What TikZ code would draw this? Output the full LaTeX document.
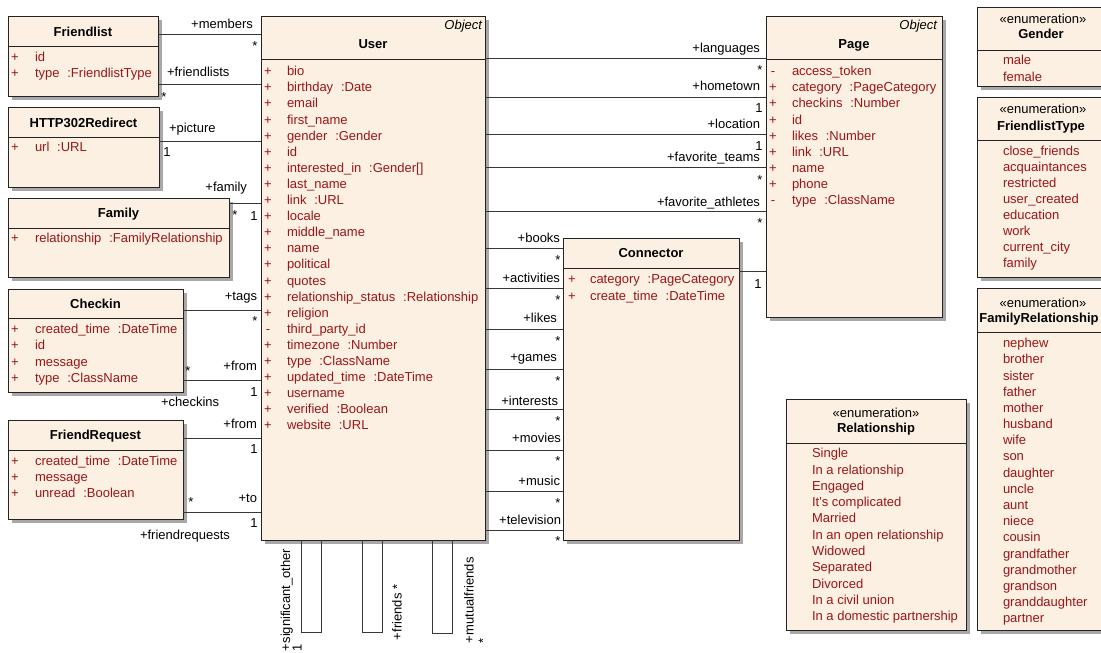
\documentclass[tikz,border=0pt]{standalone}
\usepackage{fontspec}
\setmainfont{Liberation Sans}
\definecolor{boxfill}{RGB}{251,240,226}
\definecolor{attrred}{RGB}{155,22,22}
\definecolor{shadowgray}{RGB}{168,168,168}
\definecolor{edgegray}{RGB}{55,55,55}
\definecolor{boxline}{RGB}{35,35,35}

\tikzset{
  classbox/.style={draw=boxline, line width=1pt, fill=boxfill, inner sep=0pt, outer sep=0pt, anchor=north west},
  sepline/.style={draw=boxline, line width=1pt},
  shadowbox/.style={fill=shadowgray},
  assoc/.style={draw=edgegray, line width=0.9pt},
  txt/.style={font=\fontsize{13}{15.5}\selectfont, inner sep=0pt, outer sep=0pt, text height=9.4pt, text depth=0pt},
  vis/.style={txt, text=attrred},
  attr/.style={txt, text=attrred, anchor=west},
  ttl/.style={txt, font=\fontsize{13}{15.5}\selectfont\bfseries},
  stereo/.style={txt},
  role/.style={txt},
  mult/.style={txt},
  star/.style={txt, yshift=-2.8pt}
}

% type suffix of an attribute
\newcommand\attype[1]{\hspace{0.6em}:#1}

% class rectangle with drop shadow and header separator
% #1 name, #2 x1, #3 y1, #4 x2, #5 y2, #6 separator y
\newcommand\umlclass[6]{%
  \fill[shadowbox] ({#2+4},{#3+4}) rectangle ({#4+4},{#5+4});
  \node[classbox, minimum width={(#4)-(#2)}, minimum height={(#5)-(#3)}] (#1) at (#2,#3) {};
  \draw[sepline] (#1.west |- 0,#6) -- (#1.east |- 0,#6);
}

% attribute rows: #1 prefix, #2 x of visibility, #3 x of text, #4 first y, #5 step, #6 list
\newcommand\attrlist[6]{%
  \foreach \v/\t [count=\i] in {#6} {
    \node[vis, name=#1v\i] at (#2, {#4+(\i-1)*#5}) {\v};
    \node[attr, name=#1a\i] at (#3, {#4+(\i-1)*#5}) {\t};
  }
}

% enumeration literals: #1 prefix, #2 x, #3 first y, #4 step, #5 list
\newcommand\enumlist[5]{%
  \foreach \t [count=\i] in {#5} {
    \node[attr, name=#1e\i] at (#2, {#3+(\i-1)*#4}) {\t};
  }
}

\begin{document}
\begin{tikzpicture}[x=1pt,y=-1pt]
\useasboundingbox (0,0) rectangle (1101,653);

% ---------------- classes ----------------
\umlclass{friendlist}{8}{16}{158}{96}{46}
\node[ttl] (tfriendlist) at (83,32) {Friendlist};
\attrlist{fl}{15}{35}{57}{16.1}{+/id, +/{type\attype{FriendlistType}}}

\umlclass{redirect}{8}{107}{159}{187}{137}
\node[ttl] (tredirect) at (83.5,123) {HTTP302Redirect};
\attrlist{rd}{15}{35}{147}{16.1}{+/{url\attype{URL}}}

\umlclass{family}{8}{198}{229}{277}{228}
\node[ttl] (tfamily) at (118.5,213) {Family};
\attrlist{fa}{15}{35}{238}{16.1}{+/{relationship\attype{FamilyRelationship}}}

\umlclass{checkin}{8}{289}{183}{392}{318}
\node[ttl] (tcheckin) at (95.5,304) {Checkin};
\attrlist{ci}{15}{35}{329}{16.2}{+/{created\_time\attype{DateTime}}, +/id, +/message, +/{type\attype{ClassName}}}

\umlclass{friendrequest}{8}{420}{183}{519}{450}
\node[ttl] (tfriendrequest) at (95.5,435) {FriendRequest};
\attrlist{fr}{15}{35}{460.5}{16.2}{+/{created\_time\attype{DateTime}}, +/message, +/{unread\attype{Boolean}}}

\umlclass{user}{261}{16}{485}{540}{59}
\node[txt, font=\fontsize{13}{15.5}\selectfont\itshape, anchor=east] (ouser) at (482,25) {Object};
\node[ttl] (tuser) at (373,44) {User};
\attrlist{us}{268}{287}{71}{16.1}{
  +/bio, +/{birthday\attype{Date}}, +/email, +/first\_name, +/{gender\attype{Gender}}, +/id,
  +/{interested\_in\attype{Gender[]}}, +/last\_name, +/{link\attype{URL}}, +/locale, +/middle\_name,
  +/name, +/political, +/quotes, +/{relationship\_status\attype{Relationship}}, +/religion,
  -/third\_party\_id, +/{timezone\attype{Number}}, +/{type\attype{ClassName}},
  +/{updated\_time\attype{DateTime}}, +/username, +/{verified\attype{Boolean}}, +/{website\attype{URL}}}

\umlclass{page}{766}{16}{942}{317}{59}
\node[txt, font=\fontsize{13}{15.5}\selectfont\itshape, anchor=east] (opage) at (937,25) {Object};
\node[ttl] (tpage) at (854,44) {Page};
\attrlist{pg}{773}{792}{71}{16.1}{
  -/access\_token, +/{category\attype{PageCategory}}, +/{checkins\attype{Number}}, +/id,
  +/{likes\attype{Number}}, +/{link\attype{URL}}, +/name, +/phone, -/{type\attype{ClassName}}}

\umlclass{connector}{563}{238}{739}{540}{268}
\node[ttl] (tconnector) at (651,253) {Connector};
\attrlist{cn}{572}{590}{279}{16.5}{+/{category\attype{PageCategory}}, +/{create\_time\attype{DateTime}}}

% ---------------- enumerations ----------------
\umlclass{gender}{977}{7}{1106}{86}{50}
\node[stereo] (sgender) at (1043,19) {«enumeration»};
\node[ttl] (tgender) at (1041,34) {Gender};
\enumlist{ge}{1003}{60}{16.5}{male, female}

\umlclass{fltype}{977}{97}{1106}{277}{140}
\node[stereo] (sfltype) at (1043,109) {«enumeration»};
\node[ttl] (tfltype) at (1041,126) {FriendlistType};
\enumlist{ft}{1003}{151}{16}{close\_friends, acquaintances, restricted, user\_created, education, work, current\_city, family}

\umlclass{famrel}{977}{288}{1106}{630}{332}
\node[stereo] (sfamrel) at (1043,303) {«enumeration»};
\node[ttl] (tfamrel) at (1039,318) {FamilyRelationship};
\enumlist{fm}{1003}{343}{16.18}{nephew, brother, sister, father, mother, husband, wife, son, daughter, uncle, aunt, niece, cousin, grandfather, grandmother, grandson, granddaughter, partner}

\umlclass{relationship}{786}{399}{966}{630}{443}
\node[stereo] (srelationship) at (876,413) {«enumeration»};
\node[ttl] (trelationship) at (876,428) {Relationship};
\enumlist{rl}{812}{453}{16.3}{Single, In a relationship, Engaged, It's complicated, Married, In an open relationship, Widowed, Separated, Divorced, In a civil union, In a domestic partnership}

% ---------------- associations on the left of User ----------------
\draw[assoc] (friendlist.east |- 0,34) -- (user.west |- 0,34);
\node[role, anchor=east] (rmembers) at (253,24) {+members};
\node[star] (mmembers) at (255,43) {*};

\draw[assoc] (friendlist.east |- 0,84) -- (user.west |- 0,84);
\node[role, anchor=west] (rfriendlists) at (167,72) {+friendlists};
\node[star] (mfriendlists) at (164,94) {*};

\draw[assoc] (redirect.east |- 0,141) -- (user.west |- 0,141);
\node[role, anchor=west] (rpicture) at (169,128) {+picture};
\node[mult] (mpicture) at (167,152) {1};

\draw[assoc] (family.east |- 0,203) -- (user.west |- 0,203);
\node[role, anchor=east] (rfamily) at (247,187) {+family};
\node[star] (mfamilya) at (235,212) {*};
\node[mult] (mfamilyb) at (254,216) {1};

\draw[assoc] (checkin.east |- 0,310) -- (user.west |- 0,310);
\node[role, anchor=east] (rtags) at (257,296) {+tags};
\node[star] (mtags) at (255,318) {*};

\draw[assoc] (checkin.east |- 0,380) -- (user.west |- 0,380);
\node[role, anchor=east] (rfromci) at (257,366) {+from};
\node[star] (mfromcia) at (188,368) {*};
\node[mult] (mfromcib) at (254,392) {1};
\node[role, anchor=west] (rcheckins) at (161,402) {+checkins};

\draw[assoc] (friendrequest.east |- 0,438) -- (user.west |- 0,438);
\node[role, anchor=east] (rfromfr) at (257,424) {+from};
\node[mult] (mfromfr) at (254,449) {1};

\draw[assoc] (friendrequest.east |- 0,512) -- (user.west |- 0,512);
\node[role, anchor=east] (rto) at (257,498) {+to};
\node[star] (mtoa) at (191,499) {*};
\node[mult] (mtob) at (254,523) {1};
\node[role, anchor=west] (rfriendrequests) at (140,535) {+friendrequests};

% ---------------- associations from User to Page ----------------
\foreach \r/\ly/\lbl [count=\i] in {
    +languages/58/48, +hometown/97/86, +location/134/124,
    +favorite\_teams/167/157, +favorite\_athletes/211/202} {
  \draw[assoc] (user.east |- 0,\ly) -- (page.west |- 0,\ly);
  \node[role, anchor=east, name=rpage\i] at (760,\lbl) {\r};
}
\node[star] (mpage1) at (760,67) {*};
\node[mult] (mpage2) at (759,108) {1};
\node[mult] (mpage3) at (759,146) {1};
\node[star] (mpage4) at (760,177) {*};
\node[star] (mpage5) at (760,220) {*};

% ---------------- associations from User to Connector ----------------
\foreach \r/\ly/\lx/\lbl/\sy [count=\i] in {
    +books/248/560/238/257, +activities/288/560/278/297, +likes/329/557/318/338,
    +games/369/557/357/378, +interests/409/558/401/418, +movies/450/561/438/458,
    +music/491/560/481/500, +television/530/561/520/538} {
  \draw[assoc] (user.east |- 0,\ly) -- (connector.west |- 0,\ly);
  \node[role, anchor=east, name=rconn\i] at (\lx,\lbl) {\r};
  \node[star, name=mconn\i] at (558,\sy) {*};
}

% Connector to Page
\draw[assoc] (connector.east |- 0,271) -- (page.west |- 0,271);
\node[mult] (mconnpage) at (758,284) {1};

% ---------------- reflexive associations of User ----------------
\draw[assoc] (user.south -| 301,0) -- (301,632) -- (321,632) -- (user.south -| 321,0);
\draw[assoc] (user.south -| 362,0) -- (362,632) -- (382,632) -- (user.south -| 382,0);
\draw[assoc] (user.south -| 432,0) -- (432,633) -- (452,633) -- (user.south -| 452,0);

\node[role, rotate=90, anchor=west] (rsig) at (285.5,651) {+significant\_other};
\node[mult, rotate=90] (msig) at (297,648) {1};
\node[role, rotate=90, anchor=west] (rfriends) at (397,640) {+friends *};
\node[role, rotate=90, anchor=west] (rmutual) at (469,643) {+mutualfriends};
\node[mult, rotate=90] (mmutual) at (483,641) {*};

\end{tikzpicture}
\end{document}
